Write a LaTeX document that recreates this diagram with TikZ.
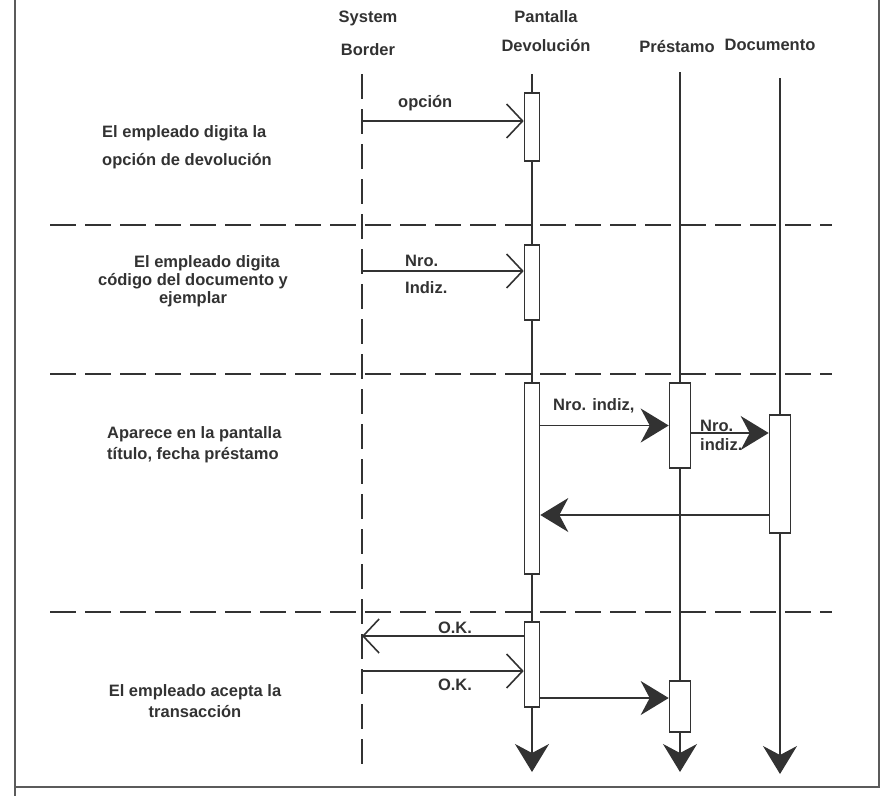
\documentclass[tikz,border=0pt]{standalone}
\usepackage{fontspec}
\setmainfont{Liberation Sans}
\usetikzlibrary{arrows.meta, positioning, calc}
\definecolor{ink}{RGB}{50,50,50}

\begin{document}
\begin{tikzpicture}[x=1pt, y=-1pt,
    txt/.style={font=\bfseries\fontsize{16.5}{19}\selectfont, text=ink, inner sep=0pt},
    life/.style={draw=ink, line width=1.6pt},
    act/.style={rectangle, draw=ink, fill=white, line width=1.6pt, inner sep=0pt, minimum width=15pt},
    wide/.style={act, minimum width=21pt},
    call/.style={ink, line width=1.6pt, -{Straight Barb[length=16pt, width=34pt, line width=1.6pt]}},
    send/.style={ink, line width=1.6pt, -{Stealth[length=28pt, width=34pt, inset=9pt]}},
    lane/.style={ink, line width=2pt, dash pattern=on 26pt off 9pt},
  ]
  \useasboundingbox (0,0) rectangle (885,796);
  % frame of the page
  \draw[ink!80, line width=1.2pt] (15,0) -- (15,796);
  \draw[ink!80, line width=1.2pt] (15,787) -- (879,787) -- (879,0);

  % headers
  \node[txt] (sys) at (368,18) {System};
  \node[txt] (bord) at (368,50) {Border};
  \node[txt] (pant) at (546,17) {Pantalla};
  \node[txt] (devo) at (546,46) {Devolución};
  \node[txt] (pres) at (677,47) {Préstamo};
  \node[txt] (docu) at (770,45) {Documento};

  % lifelines
  \coordinate (sbtop) at (362,74);  \coordinate (sbend) at (362,773);
  \coordinate (pdtop) at (532,74);  \coordinate (pdend) at (532,772);
  \coordinate (prtop) at (680,72);  \coordinate (prend) at (680,772);
  \coordinate (dotop) at (780,78);  \coordinate (doend) at (780,774);
  \draw[life, dash pattern=on 25pt off 10pt] (sbtop) -- (sbend);
  \draw[send] (pdtop) -- (pdend);
  \draw[send] (prtop) -- (prend);
  \draw[send] (dotop) -- (doend);

  % activations
  \node[act, minimum height=68pt] (pd1) at (532,127) {};
  \node[act, minimum height=75pt] (pd2) at (532,282.5) {};
  \node[act, minimum height=191pt] (pd3) at (532,478.5) {};
  \node[act, minimum height=85pt] (pd4) at (532,664.5) {};
  \node[wide, minimum height=85pt] (pr1) at (680,425.5) {};
  \node[wide, minimum height=51pt] (pr2) at (680,706.5) {};
  \node[wide, minimum height=118pt] (do1) at (780,474) {};

  % separators
  \draw[lane] (50,225) -- (832,225);
  \draw[lane] (50,374) -- (832,374);
  \draw[lane] (50,612) -- (832,612);

  % messages
  \coordinate (sb1) at (362,121);
  \coordinate (sb2) at (362,271);
  \coordinate (r4) at (362,433);
  \coordinate (r5) at (362,515);
  \coordinate (sb6) at (362,636);
  \coordinate (sb7) at (362,671);
  \coordinate (r8) at (362,698);
  \draw[call] (sb1) -- (sb1 -| pd1.west);
  \draw[call] (sb2) -- (sb2 -| pd2.west);
  \draw[send] (pd3.east |- pr1.west) -- (pr1.west);
  \draw[send] (r4 -| pr1.east) -- (r4 -| do1.west);
  \draw[send] (r5 -| do1.west) -- (r5 -| pd3.east);
  \draw[call] (sb6 -| pd4.west) -- (sb6);
  \draw[call] (sb7) -- (sb7 -| pd4.west);
  \draw[send] (r8 -| pd4.east) -- (r8 -| pr2.west);

  % message labels
  \node[txt, anchor=west] (opc) at (398,103) {opción};
  \node[txt, anchor=west] (nro1) at (405,261) {Nro.};
  \node[txt, anchor=west] (ind1) at (405,288) {Indiz.};
  \node[txt, anchor=west] (nro2) at (553,406) {Nro. indiz,};
  \node[txt, anchor=west] (nro3) at (700,426) {Nro.};
  \node[txt, anchor=west] (ind3) at (700,445) {indiz.};
  \node[txt] (ok1) at (455,628) {O.K.};
  \node[txt] (ok2) at (455,685) {O.K.};

  % steps on the left
  \node[txt, align=left, anchor=west] (st1) at (102,147)
    {El empleado digita la\\[9pt]opción de devolución};
  \node[txt, align=center, font=\bfseries\fontsize{16.5}{18}\selectfont] (st2) at (193,281)
    {\hspace*{28pt}El empleado digita\\código del documento y\\ejemplar};
  \node[txt, align=left, anchor=west, font=\bfseries\fontsize{16.5}{21}\selectfont] (st3) at (107,445)
    {Aparece en la pantalla\\título, fecha préstamo};
  \node[txt, align=center, font=\bfseries\fontsize{16.5}{21}\selectfont] (st4) at (195,701)
    {El empleado acepta la\\transacción};
\end{tikzpicture}
\end{document}
